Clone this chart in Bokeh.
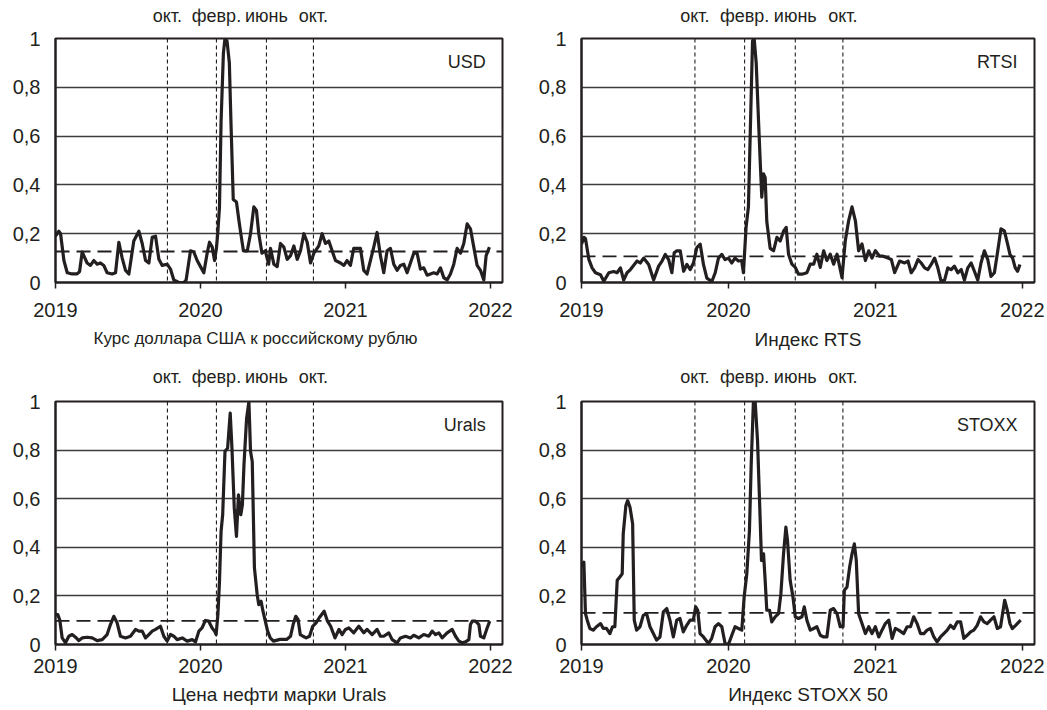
from bokeh.plotting import figure
from bokeh.models import Range1d, FixedTicker, LinearAxis, Span, Label, Title
from bokeh.layouts import gridplot
from bokeh.embed import file_html
from bokeh.resources import INLINE

FONT = "Liberation Sans"
INK = "#231f20"

BASE_YEAR = 2019
X_END = 2022.083
YEAR_TICKS = [2019, 2020, 2021, 2022]
Y_TICKS = [0.0, 0.2, 0.4, 0.6, 0.8, 1.0]
Y_LABELS = ["0", "0,2", "0,4", "0,6", "0,8", "1"]
GRID_TICKS = [0.2, 0.4, 0.6, 0.8]
EVENT_YEARS = [2019.772, 2020.110, 2020.455, 2020.779]
EVENT_LABELS = ["окт.", "февр.", "июнь", "окт."]

# (years since 2019, value)
usd = [
    (0.000, 0.19), (0.023, 0.21), (0.035, 0.20), (0.058, 0.09), (0.081, 0.04),
    (0.115, 0.035), (0.149, 0.035), (0.166, 0.045), (0.184, 0.125), (0.218, 0.08),
    (0.241, 0.07), (0.264, 0.09), (0.287, 0.075), (0.310, 0.08), (0.333, 0.07),
    (0.356, 0.04), (0.391, 0.035), (0.414, 0.04), (0.437, 0.165), (0.460, 0.10),
    (0.483, 0.05), (0.506, 0.035), (0.540, 0.17), (0.575, 0.21), (0.598, 0.16),
    (0.621, 0.09), (0.644, 0.08), (0.667, 0.185), (0.690, 0.19), (0.713, 0.095),
    (0.736, 0.07), (0.770, 0.075), (0.793, 0.055), (0.816, 0.01), (0.851, 0.0),
    (0.885, 0.0), (0.901, 0.01), (0.931, 0.13), (0.954, 0.125), (0.977, 0.09),
    (1.000, 0.065), (1.023, 0.04), (1.046, 0.12), (1.062, 0.165), (1.081, 0.145),
    (1.097, 0.09), (1.110, 0.14), (1.120, 0.21), (1.131, 0.31), (1.142, 0.66),
    (1.158, 0.94), (1.169, 1.0), (1.183, 0.99), (1.199, 0.90), (1.210, 0.66),
    (1.226, 0.34), (1.248, 0.33), (1.266, 0.25), (1.282, 0.185), (1.296, 0.13),
    (1.323, 0.13), (1.345, 0.20), (1.368, 0.31), (1.386, 0.295), (1.402, 0.20),
    (1.424, 0.12), (1.447, 0.13), (1.470, 0.075), (1.483, 0.14), (1.506, 0.075),
    (1.529, 0.065), (1.552, 0.16), (1.575, 0.145), (1.598, 0.095), (1.621, 0.11),
    (1.644, 0.15), (1.667, 0.095), (1.690, 0.13), (1.713, 0.20), (1.736, 0.165),
    (1.759, 0.08), (1.782, 0.12), (1.816, 0.15), (1.839, 0.20), (1.862, 0.16),
    (1.885, 0.17), (1.908, 0.13), (1.931, 0.09), (1.966, 0.08), (1.989, 0.07),
    (2.011, 0.09), (2.034, 0.07), (2.057, 0.14), (2.080, 0.14), (2.103, 0.14),
    (2.126, 0.05), (2.149, 0.035), (2.172, 0.09), (2.195, 0.145), (2.218, 0.205),
    (2.241, 0.11), (2.264, 0.04), (2.287, 0.13), (2.310, 0.14), (2.333, 0.075),
    (2.356, 0.05), (2.379, 0.07), (2.402, 0.075), (2.425, 0.04), (2.471, 0.12),
    (2.494, 0.12), (2.517, 0.055), (2.540, 0.06), (2.563, 0.03), (2.586, 0.035),
    (2.609, 0.04), (2.632, 0.035), (2.655, 0.06), (2.678, 0.02), (2.701, 0.01),
    (2.724, 0.035), (2.747, 0.075), (2.770, 0.14), (2.793, 0.12), (2.816, 0.16),
    (2.839, 0.24), (2.862, 0.22), (2.885, 0.145), (2.908, 0.07), (2.931, 0.05),
    (2.954, 0.01), (2.970, 0.11), (2.993, 0.145),
]

rtsi = [
    (0.000, 0.157), (0.016, 0.185), (0.027, 0.18), (0.050, 0.095), (0.072, 0.06),
    (0.095, 0.04), (0.129, 0.032), (0.152, 0.005), (0.186, 0.04), (0.219, 0.045),
    (0.242, 0.04), (0.265, 0.06), (0.287, 0.01), (0.310, 0.04), (0.333, 0.053),
    (0.378, 0.088), (0.400, 0.08), (0.423, 0.10), (0.457, 0.074), (0.491, 0.01),
    (0.525, 0.067), (0.548, 0.088), (0.570, 0.115), (0.593, 0.094), (0.615, 0.04),
    (0.631, 0.122), (0.649, 0.13), (0.672, 0.13), (0.695, 0.046), (0.717, 0.074),
    (0.740, 0.053), (0.762, 0.08), (0.785, 0.143), (0.808, 0.157), (0.830, 0.074),
    (0.853, 0.018), (0.887, 0.004), (0.910, 0.04), (0.932, 0.10), (0.955, 0.115),
    (0.977, 0.094), (1.000, 0.10), (1.023, 0.08), (1.045, 0.10), (1.068, 0.088),
    (1.090, 0.09), (1.102, 0.04), (1.120, 0.226), (1.136, 0.31), (1.148, 0.60),
    (1.164, 0.99), (1.175, 1.0), (1.189, 0.90), (1.205, 0.66), (1.216, 0.50),
    (1.227, 0.35), (1.239, 0.445), (1.250, 0.43), (1.261, 0.25), (1.284, 0.14),
    (1.307, 0.13), (1.330, 0.185), (1.352, 0.17), (1.375, 0.21), (1.393, 0.226),
    (1.409, 0.116), (1.432, 0.075), (1.455, 0.062), (1.477, 0.034), (1.500, 0.034),
    (1.534, 0.04), (1.557, 0.075), (1.580, 0.075), (1.602, 0.116), (1.625, 0.062),
    (1.648, 0.13), (1.670, 0.09), (1.693, 0.116), (1.716, 0.075), (1.739, 0.116),
    (1.773, 0.02), (1.795, 0.17), (1.818, 0.253), (1.841, 0.31), (1.864, 0.253),
    (1.886, 0.13), (1.909, 0.158), (1.932, 0.09), (1.955, 0.13), (1.977, 0.10),
    (2.000, 0.13), (2.029, 0.108), (2.052, 0.108), (2.086, 0.10), (2.109, 0.094),
    (2.131, 0.04), (2.165, 0.088), (2.199, 0.08), (2.222, 0.088), (2.244, 0.04),
    (2.267, 0.06), (2.290, 0.094), (2.312, 0.08), (2.335, 0.06), (2.357, 0.053),
    (2.380, 0.074), (2.403, 0.10), (2.425, 0.06), (2.448, 0.004), (2.471, 0.01),
    (2.493, 0.06), (2.516, 0.053), (2.538, 0.067), (2.561, 0.04), (2.584, 0.053),
    (2.606, 0.01), (2.629, 0.06), (2.652, 0.08), (2.674, 0.046), (2.697, 0.01),
    (2.719, 0.08), (2.742, 0.13), (2.765, 0.094), (2.787, 0.025), (2.810, 0.04),
    (2.833, 0.13), (2.855, 0.22), (2.878, 0.212), (2.900, 0.157), (2.916, 0.115),
    (2.934, 0.10), (2.952, 0.06), (2.968, 0.046), (2.984, 0.074),
]

urals = [
    (0.000, 0.123), (0.016, 0.123), (0.030, 0.10), (0.046, 0.027), (0.069, 0.007),
    (0.092, 0.034), (0.115, 0.041), (0.138, 0.03), (0.161, 0.016), (0.184, 0.027),
    (0.218, 0.03), (0.253, 0.027), (0.287, 0.016), (0.322, 0.02), (0.356, 0.041),
    (0.379, 0.082), (0.402, 0.116), (0.425, 0.089), (0.448, 0.034), (0.483, 0.027),
    (0.517, 0.034), (0.552, 0.062), (0.575, 0.055), (0.598, 0.055), (0.621, 0.027),
    (0.644, 0.041), (0.667, 0.055), (0.690, 0.062), (0.724, 0.075), (0.747, 0.034),
    (0.770, 0.014), (0.793, 0.041), (0.816, 0.034), (0.839, 0.02), (0.874, 0.027),
    (0.908, 0.014), (0.943, 0.02), (0.966, 0.011), (0.989, 0.055), (1.011, 0.068),
    (1.034, 0.099), (1.057, 0.096), (1.080, 0.068), (1.097, 0.055), (1.108, 0.041),
    (1.120, 0.123), (1.131, 0.26), (1.142, 0.466), (1.153, 0.534), (1.169, 0.795),
    (1.187, 0.808), (1.205, 0.952), (1.217, 0.808), (1.233, 0.562), (1.248, 0.445),
    (1.262, 0.616), (1.278, 0.534), (1.289, 0.575), (1.300, 0.74), (1.318, 0.93),
    (1.334, 1.0), (1.345, 0.795), (1.357, 0.753), (1.372, 0.315), (1.391, 0.205),
    (1.402, 0.164), (1.418, 0.178), (1.431, 0.137), (1.447, 0.096), (1.463, 0.055),
    (1.481, 0.027), (1.503, 0.014), (1.549, 0.021), (1.594, 0.021), (1.621, 0.034),
    (1.639, 0.082), (1.657, 0.116), (1.673, 0.103), (1.688, 0.041), (1.707, 0.034),
    (1.729, 0.027), (1.752, 0.034), (1.774, 0.075), (1.797, 0.089), (1.819, 0.11),
    (1.853, 0.137), (1.876, 0.096), (1.898, 0.075), (1.928, 0.027), (1.955, 0.062),
    (1.977, 0.041), (2.000, 0.062), (2.023, 0.068), (2.057, 0.048), (2.092, 0.075),
    (2.126, 0.048), (2.149, 0.062), (2.184, 0.041), (2.218, 0.062), (2.241, 0.034),
    (2.264, 0.034), (2.299, 0.048), (2.322, 0.02), (2.356, 0.007), (2.379, 0.027),
    (2.414, 0.034), (2.448, 0.027), (2.471, 0.038), (2.506, 0.027), (2.540, 0.041),
    (2.575, 0.034), (2.598, 0.055), (2.621, 0.041), (2.644, 0.048), (2.667, 0.027),
    (2.701, 0.048), (2.736, 0.062), (2.759, 0.034), (2.782, 0.014), (2.805, 0.007),
    (2.828, 0.011), (2.851, 0.02), (2.862, 0.082), (2.874, 0.096), (2.897, 0.096),
    (2.920, 0.082), (2.931, 0.034), (2.954, 0.027), (2.977, 0.068), (2.995, 0.096),
]

stoxx = [
    (0.000, 0.319), (0.016, 0.339), (0.027, 0.127), (0.039, 0.100), (0.057, 0.066),
    (0.080, 0.059), (0.102, 0.073), (0.130, 0.086), (0.148, 0.066), (0.170, 0.066),
    (0.193, 0.045), (0.211, 0.073), (0.227, 0.073), (0.243, 0.264), (0.261, 0.278),
    (0.277, 0.291), (0.284, 0.455), (0.302, 0.572), (0.314, 0.592), (0.330, 0.565),
    (0.348, 0.497), (0.359, 0.100), (0.375, 0.059), (0.398, 0.073), (0.420, 0.120),
    (0.443, 0.127), (0.466, 0.073), (0.489, 0.045), (0.511, 0.018), (0.534, 0.031),
    (0.557, 0.134), (0.580, 0.148), (0.602, 0.100), (0.625, 0.031), (0.648, 0.100),
    (0.670, 0.107), (0.693, 0.052), (0.716, 0.079), (0.739, 0.100), (0.761, 0.100),
    (0.777, 0.155), (0.791, 0.141), (0.807, 0.045), (0.830, 0.031), (0.864, 0.004),
    (0.886, 0.025), (0.909, 0.073), (0.932, 0.086), (0.955, 0.073), (0.977, 0.004),
    (1.000, 0.000), (1.023, 0.038), (1.045, 0.073), (1.068, 0.066), (1.091, 0.059),
    (1.107, 0.196), (1.125, 0.291), (1.143, 0.469), (1.155, 0.743), (1.170, 1.000),
    (1.182, 1.000), (1.198, 0.839), (1.211, 0.606), (1.225, 0.346), (1.239, 0.373),
    (1.250, 0.264), (1.261, 0.141), (1.280, 0.141), (1.295, 0.093), (1.318, 0.114),
    (1.341, 0.127), (1.357, 0.209), (1.375, 0.373), (1.391, 0.483), (1.402, 0.428),
    (1.420, 0.264), (1.439, 0.196), (1.455, 0.114), (1.477, 0.107), (1.500, 0.114),
    (1.516, 0.155), (1.534, 0.100), (1.557, 0.059), (1.580, 0.066), (1.602, 0.073),
    (1.625, 0.038), (1.648, 0.031), (1.670, 0.031), (1.693, 0.141), (1.716, 0.148),
    (1.739, 0.127), (1.761, 0.073), (1.780, 0.073), (1.789, 0.223), (1.807, 0.237),
    (1.825, 0.319), (1.841, 0.373), (1.857, 0.414), (1.870, 0.346), (1.886, 0.127),
    (1.909, 0.086), (1.932, 0.045), (1.955, 0.073), (1.977, 0.045), (2.000, 0.073),
    (2.023, 0.031), (2.045, 0.059), (2.068, 0.086), (2.091, 0.100), (2.114, 0.025),
    (2.136, 0.066), (2.159, 0.059), (2.193, 0.045), (2.216, 0.073), (2.239, 0.073),
    (2.261, 0.114), (2.284, 0.086), (2.307, 0.045), (2.330, 0.045), (2.352, 0.059),
    (2.375, 0.066), (2.398, 0.031), (2.420, 0.011), (2.443, 0.031), (2.466, 0.045),
    (2.489, 0.059), (2.511, 0.079), (2.534, 0.066), (2.557, 0.093), (2.580, 0.093),
    (2.602, 0.025), (2.625, 0.038), (2.648, 0.052), (2.670, 0.059), (2.693, 0.079),
    (2.716, 0.114), (2.739, 0.093), (2.761, 0.086), (2.784, 0.100), (2.807, 0.114),
    (2.830, 0.066), (2.852, 0.073), (2.880, 0.182), (2.898, 0.141), (2.916, 0.086),
    (2.932, 0.066), (2.955, 0.079), (2.977, 0.093), (2.989, 0.100),
]

THRESHOLDS = {"USD": 0.127, "RTSI": 0.107, "Urals": 0.097, "STOXX": 0.13}
TITLES = {
    "USD": "Курс доллара США к российскому рублю",
    "RTSI": "Индекс RTS",
    "Urals": "Цена нефти марки Urals",
    "STOXX": "Индекс STOXX 50",
}


def make_panel(series, tag, width, height, mb_left, mb_right, mb_top, mb_bottom,
               top_standoff, tick_standoff, title_standoff, title_align="center",
               title_offset=0, title_size="19px"):
    p = figure(width=width, height=height,
               x_range=Range1d(BASE_YEAR, X_END), y_range=Range1d(0, 1),
               output_backend="svg", toolbar_location=None,
               min_border_left=mb_left, min_border_right=mb_right,
               min_border_top=mb_top, min_border_bottom=mb_bottom)
    p.background_fill_color = "white"
    p.border_fill_color = "white"
    p.outline_line_color = INK
    p.outline_line_width = 2
    p.outline_line_alpha = 1.0

    p.xgrid.visible = False
    p.ygrid.ticker = FixedTicker(ticks=GRID_TICKS, minor_ticks=[])
    p.ygrid.grid_line_color = "#3c3c3c"
    p.ygrid.grid_line_width = 1.3

    xa = p.xaxis[0]
    xa.ticker = FixedTicker(ticks=YEAR_TICKS, minor_ticks=[])
    xa.axis_line_color = INK
    xa.axis_line_width = 2
    xa.major_tick_line_color = INK
    xa.major_tick_line_width = 1.5
    xa.major_tick_out = 6
    xa.major_tick_in = 0
    xa.minor_tick_out = 0
    xa.minor_tick_in = 0
    xa.major_label_text_font = FONT
    xa.major_label_text_font_size = "20px"
    xa.major_label_text_color = INK
    xa.major_label_standoff = tick_standoff

    ya = p.yaxis[0]
    ya.ticker = FixedTicker(ticks=Y_TICKS, minor_ticks=[])
    ya.major_label_overrides = dict(zip(Y_TICKS, Y_LABELS))
    ya.axis_line_color = INK
    ya.axis_line_width = 2
    ya.major_tick_out = 0
    ya.major_tick_in = 0
    ya.minor_tick_out = 0
    ya.minor_tick_in = 0
    ya.major_label_text_font = FONT
    ya.major_label_text_font_size = "20px"
    ya.major_label_text_color = INK
    ya.major_label_standoff = 15

    top = LinearAxis(ticker=FixedTicker(ticks=EVENT_YEARS, minor_ticks=[]),
                     major_label_overrides=dict(zip(EVENT_YEARS, EVENT_LABELS)))
    top.axis_line_color = None
    top.major_tick_line_color = None
    top.minor_tick_line_color = None
    top.major_tick_out = 0
    top.major_tick_in = 0
    top.major_label_text_font = FONT
    top.major_label_text_font_size = "18px"
    top.major_label_text_color = INK
    top.major_label_standoff = top_standoff
    p.add_layout(top, "above")

    for ev in EVENT_YEARS:
        p.add_layout(Span(location=ev, dimension="height", line_color=INK,
                          line_width=1.1, line_dash="4 3"))
    p.add_layout(Span(location=THRESHOLDS[tag], dimension="width", line_color=INK,
                      line_width=1.8, line_dash="14 7"))

    xs = [BASE_YEAR + t for t, _ in series]
    ys = [v for _, v in series]
    p.line(xs, ys, line_color=INK, line_width=3.2, line_join="round")

    p.add_layout(Label(x=2021.968, y=0.905, text=tag, text_align="right",
                       text_baseline="middle", text_font=FONT,
                       text_font_size="18px", text_color=INK))

    ttl = Title(text=TITLES[tag], align=title_align, offset=title_offset,
                standoff=title_standoff, text_font=FONT, text_font_size=title_size,
                text_font_style="normal", text_color=INK)
    p.add_layout(ttl, "below")
    return p


p1 = make_panel(usd, "USD", 530, 360, 55, 28, 38, 78, 13, 14, 14,
                title_align="left", title_offset=38, title_size="17px")
p2 = make_panel(rtsi, "RTSI", 517, 360, 51, 13, 38, 78, 13, 14, 14)
p3 = make_panel(urals, "Urals", 530, 350, 55, 28, 41, 66, 15, 8, 12)
p4 = make_panel(stoxx, "STOXX", 517, 350, 51, 13, 41, 66, 15, 8, 12)

grid = gridplot([[p1, p2], [p3, p4]], toolbar_location=None)

open("out.html", "w").write(file_html(grid, INLINE))
